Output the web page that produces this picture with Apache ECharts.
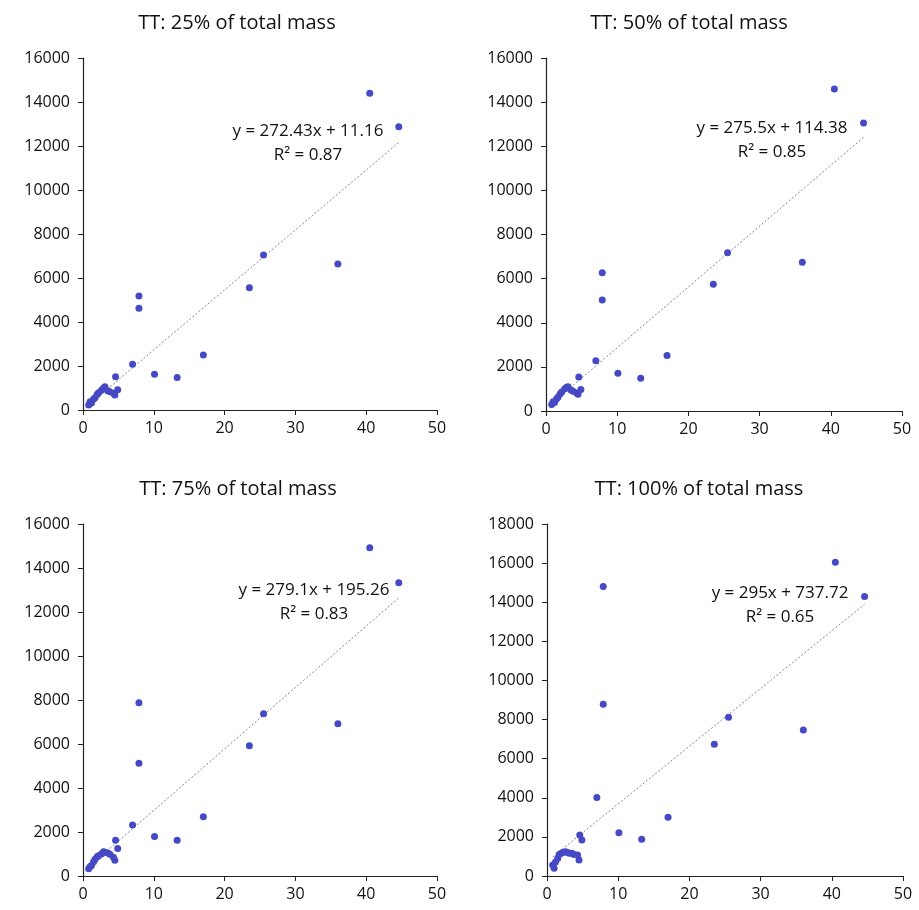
<!DOCTYPE html>
<html>
<head>
<meta charset="utf-8">
<title>TT total mass</title>
<script src="https://cdn.jsdelivr.net/npm/echarts@6/dist/echarts.min.js"></script>
<style>
  html, body { margin: 0; padding: 0; background: #fff; }
  #main { width: 919px; height: 910px; }
</style>
</head>
<body>
<div id="main"></div>
<script>
// x values shared by the four panels
const xVals = [0.8, 1.0, 1.2, 1.5, 1.7, 2.0, 2.2, 2.6, 2.9, 3.1, 3.5, 3.8, 4.3, 4.5, 4.6, 4.9, 7.0, 7.9, 7.9, 10.1, 13.3, 17.0, 23.5, 25.5, 36.0, 40.5, 44.6]

// y values for each panel
const y25 = [230, 380, 320, 500, 560, 700, 780, 900, 1000, 1060, 880, 830, 760, 680, 1510, 920, 2080, 5180, 4620, 1630, 1480, 2500, 5560, 7050, 6640, 14400, 12880]
const y50 = [300, 420, 380, 560, 640, 780, 860, 1000, 1080, 1100, 950, 900, 820, 760, 1540, 980, 2280, 6270, 5030, 1710, 1480, 2510, 5750, 7170, 6740, 14600, 13050]
const y75 = [330, 420, 480, 650, 760, 880, 920, 1000, 1100, 1080, 1050, 990, 850, 720, 1630, 1250, 2320, 7880, 5120, 1790, 1630, 2690, 5920, 7380, 6920, 14920, 13330]
const y100 = [560, 390, 720, 900, 1100, 1160, 1200, 1240, 1200, 1160, 1160, 1100, 1070, 820, 2100, 1840, 4020, 14800, 8780, 2210, 1880, 3000, 6740, 8120, 7470, 16050, 14290]

const titles = ['TT: 25% of total mass', 'TT: 50% of total mass', 'TT: 75% of total mass', 'TT: 100% of total mass']
const slopes = [272.43, 275.5, 279.1, 295]
const intercepts = [11.16, 114.38, 195.26, 737.72]
const r2 = ['0.87', '0.85', '0.83', '0.65']
const yMax = [16000, 16000, 16000, 18000]

const allY = [y25, y50, y75, y100]

// grid boxes (px)
const grids = [
  { left: 83, top: 58, width: 354, height: 352 },
  { left: 546, top: 58, width: 356, height: 353 },
  { left: 83, top: 524, width: 354, height: 352 },
  { left: 547, top: 524, width: 356, height: 352 }
]
// title centres and equation label centres (px)
const titlePos = [[232, 8], [684, 8], [233, 474], [694, 474]]
const eqPos = [[308, 143], [772, 140], [314, 602], [780, 605]]

const font = 'Open Sans, Noto Sans, sans-serif'
const dotColor = '#4549c4'

const xMin = Math.min(...xVals)
const xMax = Math.max(...xVals)

const option = {
  animation: false,
  backgroundColor: '#fff',
  title: titlePos.map((p, i) => ({
    text: titles[i],
    left: p[0],
    top: p[1],
    textAlign: 'center',
    textStyle: { fontFamily: font, fontSize: 20, fontWeight: 'normal', color: '#111' }
  })),
  grid: grids,
  xAxis: grids.map((g, i) => ({
    gridIndex: i,
    type: 'value',
    min: 0,
    max: 50,
    interval: 10,
    splitLine: { show: false },
    axisLine: { lineStyle: { color: '#222', width: 1.2 } },
    axisTick: { show: true, length: 5, lineStyle: { color: '#222' } },
    axisLabel: { fontFamily: font, fontSize: 16, color: '#111', margin: 10 }
  })),
  yAxis: grids.map((g, i) => ({
    gridIndex: i,
    type: 'value',
    min: 0,
    max: yMax[i],
    interval: 2000,
    splitLine: { show: false },
    axisLine: { show: true, lineStyle: { color: '#222', width: 1.2 } },
    axisTick: { show: true, length: 5, lineStyle: { color: '#222' } },
    axisLabel: { fontFamily: font, fontSize: 16, color: '#111', margin: 13, formatter: v => String(v) }
  })),
  series: [],
  graphic: []
}

allY.forEach((ys, i) => {
  option.series.push({
    type: 'line',
    xAxisIndex: i,
    yAxisIndex: i,
    data: [[xMin, slopes[i] * xMin + intercepts[i]], [xMax, slopes[i] * xMax + intercepts[i]]],
    symbol: 'none',
    lineStyle: { color: '#7f859e', width: 1, type: [2, 2] },
    z: 1
  })
  option.series.push({
    type: 'scatter',
    xAxisIndex: i,
    yAxisIndex: i,
    data: xVals.map((x, k) => [x, ys[k]]),
    symbolSize: 7,
    itemStyle: { color: dotColor, opacity: 1 },
    z: 2
  })
  option.graphic.push({
    type: 'text',
    x: eqPos[i][0],
    y: eqPos[i][1],
    style: {
      text: 'y = ' + slopes[i] + 'x + ' + intercepts[i] + '\nR² = ' + r2[i],
      align: 'center',
      verticalAlign: 'middle',
      lineHeight: 24,
      fontFamily: font,
      fontSize: 17,
      fill: '#111'
    },
    z: 10
  })
})

const chart = echarts.init(document.getElementById('main'))
chart.setOption(option)
</script>
</body>
</html>
